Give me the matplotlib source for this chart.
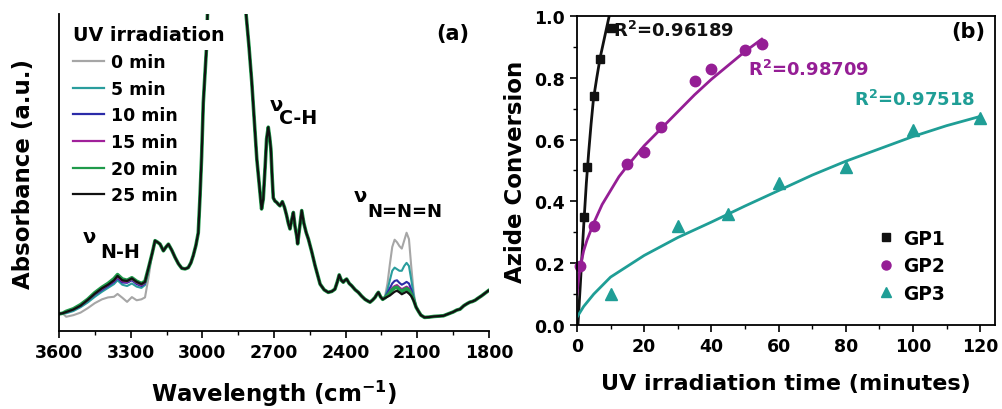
import numpy as np
import matplotlib
matplotlib.use('Agg')
import matplotlib.pyplot as plt
from matplotlib.ticker import MultipleLocator
from matplotlib.lines import Line2D

plt.rcParams['font.family'] = ['DejaVu Sans']
plt.rcParams['font.weight'] = 'bold'
plt.rcParams['axes.labelweight'] = 'bold'
plt.rcParams['mathtext.default'] = 'bf'

# ---------------- panel (a): FTIR spectra ----------------
labels_a = ['0 min', '5 min', '10 min', '15 min', '20 min', '25 min']
colors_a = ['#a6a6a6', '#2a9d9d', '#2b2ba8', '#a0209a', '#1f9a4a', '#111111']

# shared part of the spectra (all curves overlap here)
left_wn = [3600, 3585]
left_abs = [0.054, 0.056]

mid_wn = [3210, 3198, 3187, 3177, 3163, 3152, 3142, 3128, 3114, 3100, 3086, 3072,
          3059, 3048, 3038, 3027, 3017, 3010, 3003, 2996, 2988, 2982, 2975, 2965,
          2940, 2900, 2860, 2835, 2822, 2817, 2805, 2793, 2782, 2772, 2759, 2752,
          2745, 2737, 2731, 2724, 2718, 2713, 2708, 2703, 2696, 2689, 2682, 2675,
          2665, 2656, 2647, 2640, 2633, 2626, 2619, 2612, 2605, 2601, 2592, 2584,
          2575, 2565, 2556, 2542, 2528, 2517, 2507, 2490, 2473, 2458, 2445, 2435,
          2427, 2418, 2410, 2403, 2396, 2385, 2375, 2360, 2347, 2333, 2319, 2308,
          2298, 2287, 2277, 2270, 2263, 2254, 2245]
mid_abs = [0.245, 0.285, 0.28, 0.274, 0.253, 0.265, 0.274, 0.255, 0.232, 0.212, 0.198, 0.196,
           0.20, 0.215, 0.238, 0.27, 0.31, 0.42, 0.55, 0.72, 0.82, 0.90, 1.1, 1.4,
           1.6, 1.7, 1.6, 1.4, 1.1, 1.0, 0.9, 0.785, 0.66, 0.543, 0.44, 0.385,
           0.416, 0.52, 0.606, 0.643, 0.61, 0.574, 0.49, 0.42, 0.41, 0.406, 0.40, 0.395,
           0.408, 0.39, 0.364, 0.34, 0.322, 0.35, 0.374, 0.33, 0.30, 0.275, 0.33, 0.38,
           0.34, 0.31, 0.29, 0.25, 0.206, 0.175, 0.148, 0.13, 0.122, 0.125, 0.132, 0.155,
           0.177, 0.16, 0.154, 0.16, 0.164, 0.15, 0.143, 0.13, 0.122, 0.11, 0.10, 0.095,
           0.091, 0.098, 0.106, 0.115, 0.122, 0.108, 0.10]

right_wn = [2095, 2085, 2070, 2050, 2030, 2010, 1991, 1970, 1950, 1935, 1921, 1905,
            1890, 1880, 1870, 1858, 1845, 1831, 1815, 1803]
right_abs = [0.062, 0.05, 0.043, 0.044, 0.046, 0.047, 0.048, 0.054, 0.06, 0.066, 0.069, 0.08,
             0.087, 0.091, 0.093, 0.097, 0.104, 0.111, 0.12, 0.127]

# N-H stretching region, per irradiation time
nh_wn = [3570, 3540, 3510, 3480, 3450, 3420, 3395, 3370, 3355, 3335, 3315, 3295, 3275, 3255, 3240, 3225]
nh_abs = [
    [0.045, 0.05, 0.058, 0.072, 0.088, 0.10, 0.106, 0.108, 0.117, 0.105, 0.092, 0.107, 0.097, 0.10, 0.106, 0.17],
    [0.056, 0.063, 0.075, 0.09, 0.108, 0.124, 0.136, 0.148, 0.16, 0.146, 0.142, 0.15, 0.14, 0.136, 0.145, 0.19],
    [0.059, 0.067, 0.079, 0.096, 0.115, 0.13, 0.142, 0.155, 0.167, 0.153, 0.152, 0.16, 0.148, 0.142, 0.15, 0.196],
    [0.06, 0.068, 0.08, 0.097, 0.117, 0.133, 0.145, 0.158, 0.17, 0.157, 0.155, 0.163, 0.152, 0.145, 0.152, 0.198],
    [0.062, 0.07, 0.083, 0.10, 0.121, 0.138, 0.15, 0.165, 0.178, 0.164, 0.16, 0.168, 0.157, 0.15, 0.157, 0.20],
    [0.06, 0.068, 0.08, 0.098, 0.118, 0.135, 0.146, 0.16, 0.174, 0.16, 0.158, 0.166, 0.155, 0.148, 0.155, 0.20],
]

# azide (N=N=N) region, per irradiation time
az_wn = [2235, 2225, 2215, 2205, 2195, 2185, 2175, 2165, 2155, 2145, 2135, 2125, 2115, 2105]
az_abs = [
    [0.11, 0.15, 0.21, 0.265, 0.288, 0.28, 0.268, 0.26, 0.285, 0.31, 0.29, 0.20, 0.12, 0.075],
    [0.108, 0.13, 0.16, 0.19, 0.20, 0.195, 0.19, 0.19, 0.205, 0.215, 0.205, 0.16, 0.11, 0.075],
    [0.106, 0.12, 0.135, 0.15, 0.158, 0.16, 0.152, 0.146, 0.15, 0.155, 0.15, 0.13, 0.10, 0.075],
    [0.105, 0.115, 0.125, 0.136, 0.142, 0.145, 0.138, 0.132, 0.136, 0.14, 0.135, 0.12, 0.098, 0.075],
    [0.105, 0.112, 0.12, 0.13, 0.136, 0.138, 0.13, 0.125, 0.13, 0.134, 0.128, 0.115, 0.097, 0.075],
    [0.104, 0.108, 0.112, 0.118, 0.124, 0.127, 0.122, 0.116, 0.12, 0.124, 0.118, 0.11, 0.095, 0.075],
]

# ---------------- panel (b): azide conversion ----------------
gp1_t = [2, 3, 5, 7, 10]
gp1_y = [0.35, 0.51, 0.74, 0.86, 0.96]
gp2_t = [1, 5, 15, 20, 25, 35, 40, 50, 55]
gp2_y = [0.19, 0.32, 0.52, 0.56, 0.64, 0.79, 0.83, 0.89, 0.91]
gp3_t = [10, 30, 45, 60, 80, 100, 120]
gp3_y = [0.10, 0.32, 0.36, 0.46, 0.51, 0.63, 0.67]

# fitted curves as drawn in the figure
fit1_t = [0.3, 1, 2, 2.8, 3.5, 4.2, 4.9, 5.9, 6.9, 8, 9, 9.6]
fit1_y = [0.0, 0.13, 0.32, 0.46, 0.56, 0.65, 0.73, 0.80, 0.865, 0.92, 0.97, 1.0]
fit2_t = [0, 0.5, 1, 2, 3, 5, 7.5, 10, 12.5, 15, 20, 25, 30, 35, 40, 45, 50, 55]
fit2_y = [0.10, 0.15, 0.19, 0.24, 0.275, 0.33, 0.39, 0.435, 0.48, 0.515, 0.58, 0.635,
          0.69, 0.745, 0.795, 0.84, 0.885, 0.925]
fit3_t = [0, 2, 5, 10, 15, 20, 30, 40, 50, 60, 70, 80, 90, 100, 110, 120]
fit3_y = [0.025, 0.06, 0.10, 0.155, 0.19, 0.225, 0.283, 0.333, 0.385, 0.435, 0.485, 0.53,
          0.57, 0.61, 0.645, 0.675]

r2_text = ['R$^{2}$=0.96189', 'R$^{2}$=0.98709', 'R$^{2}$=0.97518']
c_gp1, c_gp2, c_gp3 = '#111111', '#951e95', '#1f9e96'

fig = plt.figure(figsize=(10.02, 4.10), dpi=100)
ax1 = fig.add_axes([0.0589, 0.1902, 0.4291, 0.7732])
ax2 = fig.add_axes([0.5758, 0.2049, 0.4172, 0.7537])

# ---- (a)
for i in range(6):
    wn = left_wn + nh_wn + mid_wn + az_wn + right_wn
    ab = left_abs + nh_abs[i] + mid_abs + az_abs[i] + right_abs
    lw = {4: 2.6, 5: 1.6}.get(i, 1.5)
    ax1.plot(wn, ab, color=colors_a[i], lw=lw, label=labels_a[i])

ax1.set_xlim(3600, 1800)
ax1.set_ylim(0, 1.0)
ax1.xaxis.set_major_locator(MultipleLocator(300))
ax1.xaxis.set_minor_locator(MultipleLocator(150))
ax1.set_yticks([])
ax1.spines['top'].set_visible(False)
ax1.spines['right'].set_visible(False)
for s in ['left', 'bottom']:
    ax1.spines[s].set_linewidth(1.3)
ax1.tick_params(axis='x', which='major', direction='out', length=5, width=1.2, labelsize=12.5)
ax1.tick_params(axis='x', which='minor', direction='out', length=3, width=1.0)
ax1.set_xlabel('Wavelength (cm$^{-1}$)', fontsize=16.5, labelpad=12)
ax1.set_ylabel('Absorbance (a.u.)', fontsize=16.5, labelpad=17)

leg_lines = [Line2D([], [], color=colors_a[i], lw=1.6) for i in range(6)]
leg = ax1.legend(leg_lines, labels_a, title='UV irradiation',
                 loc='upper left', bbox_to_anchor=(0.025, 0.975), frameon=False,
                 fontsize=12.5, title_fontproperties={'weight': 'bold', 'size': 13.8},
                 handlelength=1.75, handletextpad=0.4, labelspacing=0.5,
                 borderpad=0.1, borderaxespad=0.1)
leg._legend_box.align = 'left'
leg.get_title().set_bbox(dict(facecolor='white', edgecolor='none', pad=4))

ax1.text(3475, 0.297, '\u03bd', fontsize=14, ha='center', va='center')
ax1.text(3345, 0.25, 'N-H', fontsize=13.7, ha='center', va='center')
ax1.text(2690, 0.716, '\u03bd', fontsize=14, ha='center', va='center')
ax1.text(2597, 0.673, 'C-H', fontsize=13.7, ha='center', va='center')
ax1.text(2340, 0.426, '\u03bd', fontsize=14, ha='center', va='center')
ax1.text(2152, 0.38, 'N=N=N', fontsize=13, ha='center', va='center')
ax1.text(1951, 0.94, '(a)', fontsize=15, ha='center', va='center')

# ---- (b)
ax2.plot(fit1_t, fit1_y, color=c_gp1, lw=2)
ax2.plot(fit2_t, fit2_y, color=c_gp2, lw=2)
ax2.plot(fit3_t, fit3_y, color=c_gp3, lw=2)
ax2.plot(gp1_t, gp1_y, 's', color=c_gp1, ms=6, clip_on=False)
ax2.plot(gp2_t, gp2_y, 'o', color=c_gp2, ms=7.5, clip_on=False)
ax2.plot(gp3_t, gp3_y, '^', color=c_gp3, ms=8, clip_on=False)

ax2.set_xlim(0, 124.4)
ax2.set_ylim(0, 1.0)
ax2.xaxis.set_major_locator(MultipleLocator(20))
ax2.xaxis.set_minor_locator(MultipleLocator(10))
ax2.yaxis.set_major_locator(MultipleLocator(0.2))
ax2.yaxis.set_minor_locator(MultipleLocator(0.1))
ax2.yaxis.set_major_formatter(plt.FormatStrFormatter('%.1f'))
for s in ax2.spines.values():
    s.set_linewidth(1.3)
ax2.tick_params(which='major', direction='out', length=5, width=1.2, labelsize=12.5)
ax2.tick_params(which='minor', direction='out', length=3, width=1.0)
ax2.set_xlabel('UV irradiation time (minutes)', fontsize=16, labelpad=13)
ax2.set_ylabel('Azide Conversion', fontsize=16.5, labelpad=5)

ax2.text(10.7, 0.955, r2_text[0], fontsize=13, color=c_gp1, ha='left', va='center')
ax2.text(51, 0.83, r2_text[1], fontsize=13, color=c_gp2, ha='left', va='center')
ax2.text(82.5, 0.733, r2_text[2], fontsize=13, color=c_gp3, ha='left', va='center')
ax2.text(116.5, 0.95, '(b)', fontsize=15, ha='center', va='center')

mk = [Line2D([], [], ls='none', marker='s', color=c_gp1, ms=5.5),
      Line2D([], [], ls='none', marker='o', color=c_gp2, ms=6.5),
      Line2D([], [], ls='none', marker='^', color=c_gp3, ms=7)]
ax2.legend(mk, ['GP1', 'GP2', 'GP3'], loc='lower right', bbox_to_anchor=(0.92, 0.018),
           frameon=False, fontsize=13.4, handlelength=0.8, handletextpad=0.5,
           labelspacing=0.45)

fig.savefig('out.png', dpi=100)
